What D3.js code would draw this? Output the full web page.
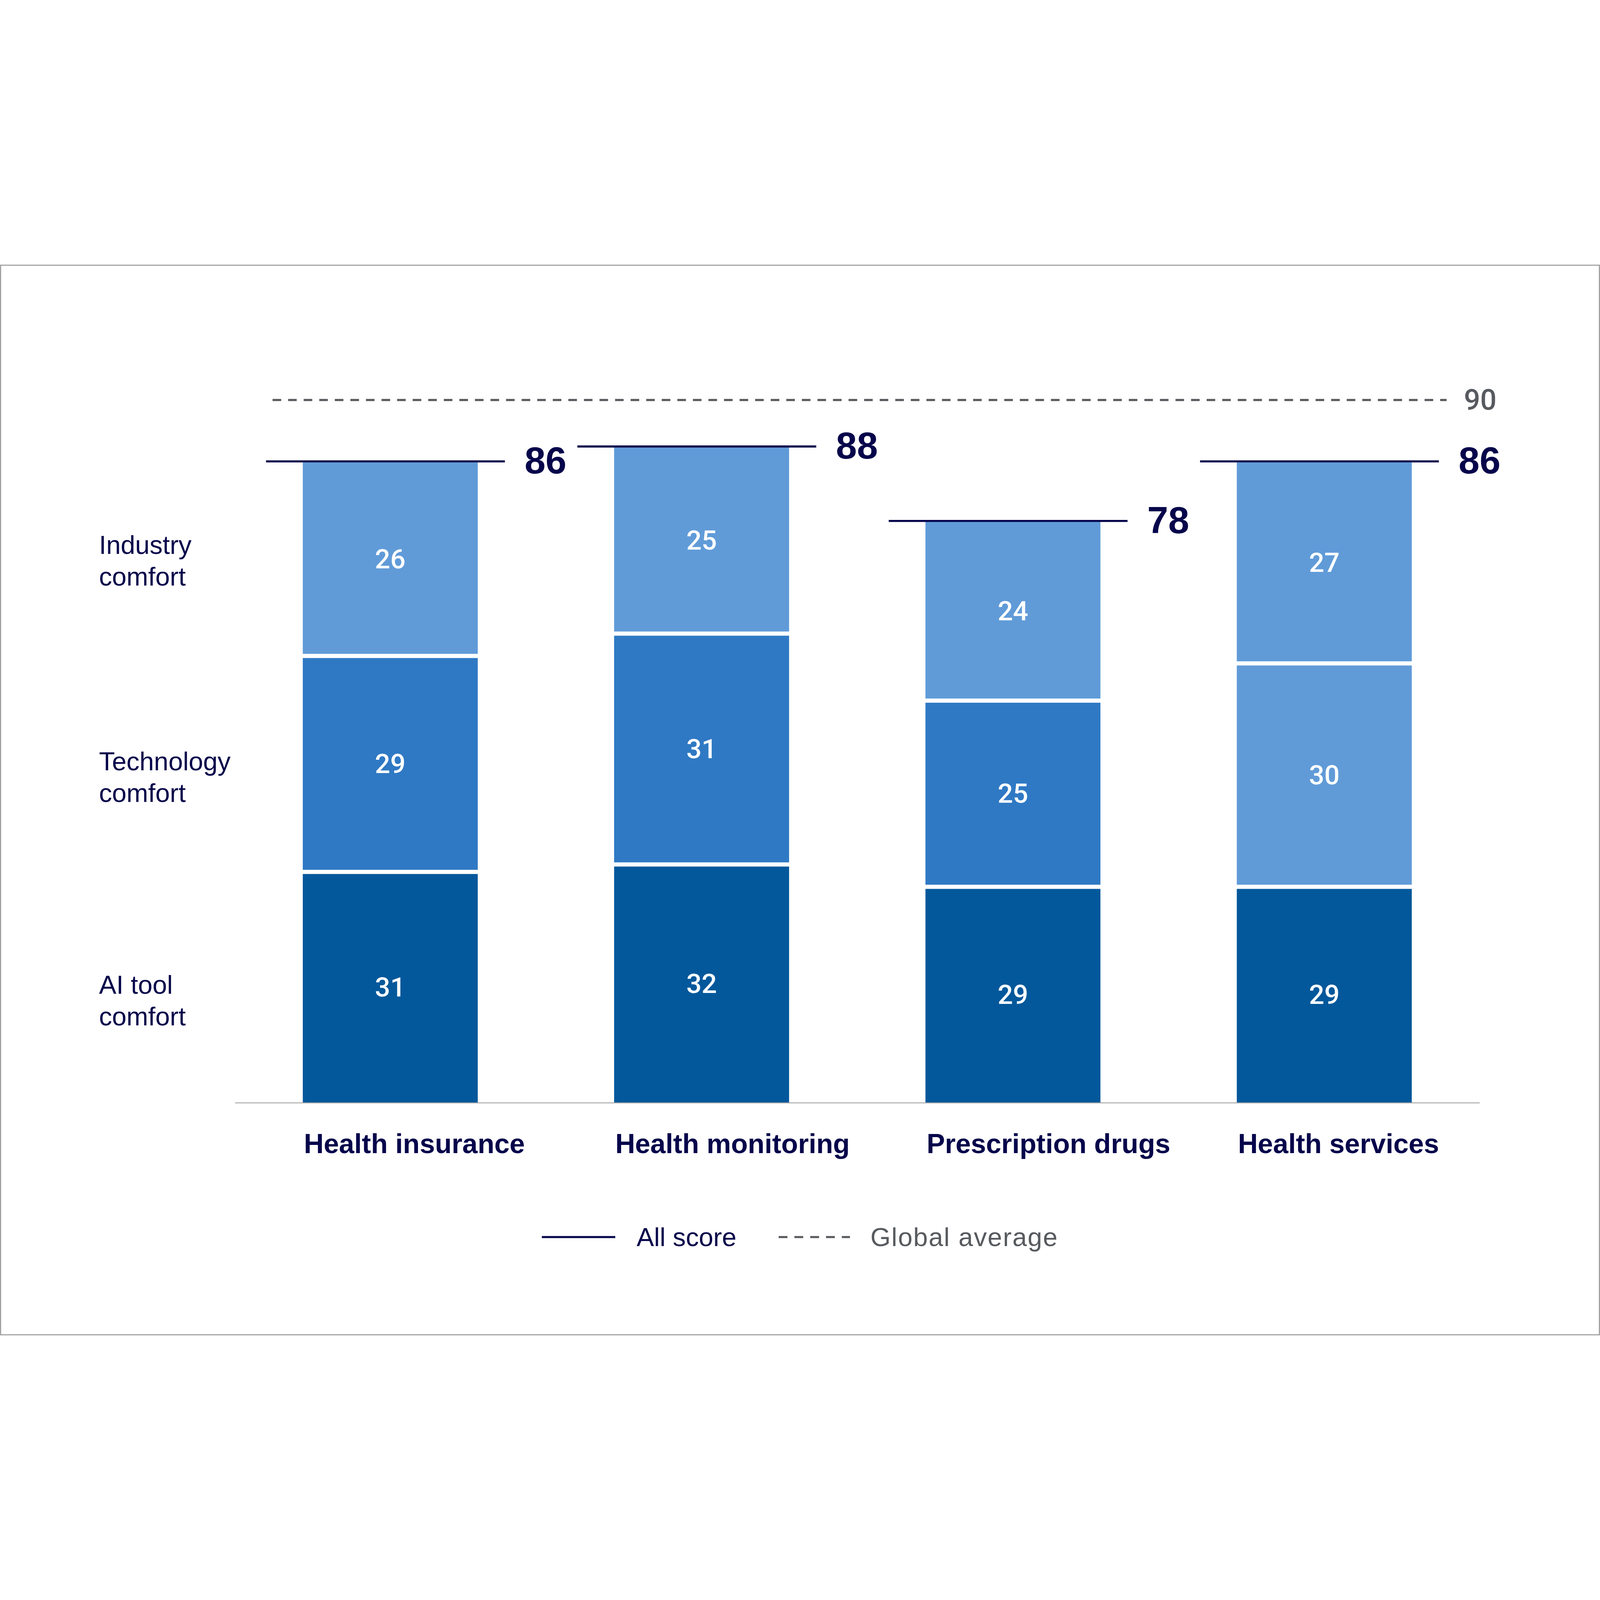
<!DOCTYPE html>
<html>
<head>
<meta charset="utf-8">
<script src="https://cdn.jsdelivr.net/npm/d3@7"></script>
<style>
  html, body { margin: 0; padding: 0; background: #ffffff; width: 100%; height: 100%; overflow: hidden; }
  svg { display: block; width: 100vw; height: 100vh; }
</style>
</head>
<body>
<script>
// ---------------- DATA ----------------
const categories = ["Health insurance", "Health monitoring", "Prescription drugs", "Health services"];
const seriesNames = ["AI tool comfort", "Technology comfort", "Industry comfort"];
const aiToolComfort = [31, 32, 29, 29];
const technologyComfort = [29, 31, 25, 30];
const industryComfort = [26, 25, 24, 27];
const allScore = [86, 88, 78, 86];
const globalAverage = 90;
const rowLabelLines = [["AI tool", "comfort"], ["Technology", "comfort"], ["Industry", "comfort"]];
const legendLabels = ["All score", "Global average"];

// ---------------- STYLE ----------------
const W = 6886, H = 4608;
const navy = "#06054b";
const grey = "#575a5e";
const seriesColors = ["#03589b", "#2f79c4", "#609bd8"];
// the original draws the middle segment of the last bar in the light tone
const colorOverrides = { "Health services|Technology comfort": "#609bd8" };
const segGap = 18;
const baseFont = "Liberation Sans, Arial, sans-serif";
const numFont = "Roboto, Liberation Sans, Arial, sans-serif";

const svg = d3.select("body").append("svg")
  .attr("viewBox", `0 0 ${W} ${H}`)
  .attr("preserveAspectRatio", "xMidYMid meet");

svg.append("rect").attr("x", 2.5).attr("y", 2.5)
  .attr("width", W - 5).attr("height", H - 5)
  .attr("fill", "#ffffff").attr("stroke", "#a3a3a3").attr("stroke-width", 5);

// table for stacking
const table = categories.map((c, i) => ({
  category: c,
  "AI tool comfort": aiToolComfort[i],
  "Technology comfort": technologyComfort[i],
  "Industry comfort": industryComfort[i]
}));
const stacked = d3.stack().keys(seriesNames)(table);

const x = d3.scaleBand().domain(categories)
  .range([1011, 6368]).paddingInner(0.438).paddingOuter(0.218);
const y = d3.scaleLinear().domain([0, 100]).range([3607, 402]);
const bw = x.bandwidth();

// bars
const layers = svg.append("g").selectAll("g").data(stacked).join("g");
layers.each(function(layer, li) {
  const g = d3.select(this);
  const isBottom = li === 0, isTop = li === stacked.length - 1;
  g.selectAll("rect").data(layer).join("rect")
    .attr("x", d => x(d.data.category))
    .attr("width", bw)
    .attr("y", d => y(d[1]) + (isTop ? 0 : segGap / 2))
    .attr("height", d => (y(d[0]) - (isBottom ? 0 : segGap / 2)) - (y(d[1]) + (isTop ? 0 : segGap / 2)))
    .attr("fill", d => colorOverrides[d.data.category + "|" + layer.key] || seriesColors[li]);
  g.selectAll("text").data(layer).join("text")
    .attr("x", d => x(d.data.category) + bw / 2)
    .attr("y", d => (y(d[0]) + y(d[1])) / 2)
    .attr("text-anchor", "middle")
    .attr("dominant-baseline", "central")
    .attr("font-family", numFont)
    .attr("font-weight", 500)
    .attr("font-size", 116)
    .attr("fill", "#ffffff")
    .text(d => d[1] - d[0]);
});

// baseline axis
const axis = svg.append("g").attr("transform", `translate(0,${y(0)})`)
  .call(d3.axisBottom(x).tickSize(0).tickSizeOuter(0));
axis.select(".domain").attr("stroke", "#a3a3a3").attr("stroke-width", 4);
axis.selectAll(".tick text")
  .attr("text-anchor", "start")
  .attr("x", -bw / 2 + 5)
  .attr("y", 216)
  .attr("dy", 0)
  .attr("font-family", baseFont)
  .attr("font-weight", "bold")
  .attr("font-size", 118)
  .attr("fill", navy);

// global average dashed line (drawn a little above its value, as in the original)
const globalLift = 140;
const gy = y(globalAverage) - globalLift;
svg.append("line")
  .attr("x1", 1173).attr("x2", 6226)
  .attr("y1", gy).attr("y2", gy)
  .attr("stroke", grey).attr("stroke-width", 9)
  .attr("stroke-dasharray", "37 30");
svg.append("text")
  .attr("x", 6300).attr("y", gy)
  .attr("dominant-baseline", "central")
  .attr("font-family", numFont)
  .attr("font-weight", 500)
  .attr("font-size", 124)
  .attr("fill", grey)
  .text(globalAverage);

// all score lines + labels
const totals = svg.append("g").selectAll("g").data(categories).join("g");
totals.append("line")
  .attr("x1", (d) => x(d) - 0.21 * bw)
  .attr("x2", (d) => x(d) + bw + 0.155 * bw)
  .attr("y1", (d, i) => y(allScore[i]) - 4)
  .attr("y2", (d, i) => y(allScore[i]) - 4)
  .attr("stroke", navy).attr("stroke-width", 9);
totals.append("text")
  .attr("x", (d) => x(d) + bw + 0.155 * bw + 85)
  .attr("y", (d, i) => y(allScore[i]) - 8)
  .attr("dominant-baseline", "central")
  .attr("font-family", baseFont)
  .attr("font-weight", "bold")
  .attr("font-size", 162)
  .attr("fill", navy)
  .text((d, i) => allScore[i]);

// row labels aligned with first bar's segments
const firstBar = stacked.map(layer => layer[0]);
const rowG = svg.append("g").selectAll("text").data(firstBar).join("text")
  .attr("font-family", baseFont)
  .attr("font-size", 112)
  .attr("fill", navy);
rowG.each(function(d, i) {
  const cy = (y(d[0]) + y(d[1])) / 2 + (i < 2 ? 55 : 5);
  const t = d3.select(this);
  rowLabelLines[i].forEach((line, k) => {
    t.append("tspan").attr("x", 426).attr("y", cy - 28 + k * 136).text(line);
  });
});

// legend
const ly = 4185;
svg.append("line").attr("x1", 2332).attr("x2", 2648).attr("y1", ly).attr("y2", ly)
  .attr("stroke", navy).attr("stroke-width", 9);
svg.append("text").attr("x", 2740).attr("y", ly)
  .attr("dominant-baseline", "central")
  .attr("font-family", baseFont)
  .attr("font-size", 112).attr("fill", navy).text(legendLabels[0]);
svg.append("line").attr("x1", 3351).attr("x2", 3658).attr("y1", ly).attr("y2", ly)
  .attr("stroke", grey).attr("stroke-width", 9).attr("stroke-dasharray", "38 30");
svg.append("text").attr("x", 3746).attr("y", ly)
  .attr("dominant-baseline", "central")
  .attr("font-family", baseFont)
  .attr("letter-spacing", 3.5)
  .attr("font-size", 112).attr("fill", grey).text(legendLabels[1]);
</script>
</body>
</html>
